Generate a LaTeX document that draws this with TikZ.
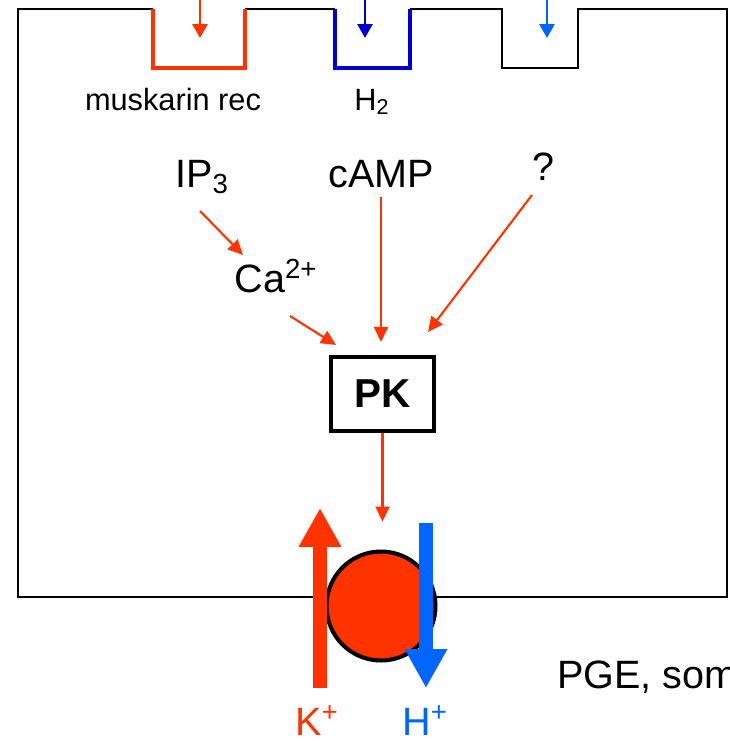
\documentclass[tikz,border=0pt]{standalone}
\usepackage{fontspec}
\setmainfont{Liberation Sans}
\usepackage{tikz}
\usetikzlibrary{arrows.meta,positioning,calc}
\definecolor{sigred}{RGB}{255,51,0}
\definecolor{hblue}{RGB}{0,102,255}
\definecolor{recblue}{RGB}{0,0,210}

\begin{document}
\begin{tikzpicture}[x=0.02cm,y=-0.02cm,
          every node/.style={inner sep=0pt,anchor=base},
          lbl/.style={font=\fontsize{17.5}{20}\selectfont},
          mol/.style={font=\fontsize{22.5}{26}\selectfont},
          pknode/.style={anchor=center,draw,line width=2.3pt,minimum width=2.06cm,
            minimum height=1.48cm,font=\fontsize{23}{26}\selectfont\bfseries},
          pumpnode/.style={anchor=center,circle,draw,line width=2.3pt,
            fill=sigred,minimum size=2.18cm},
          wall/.style={line width=1.2pt},
          pocket/.style={line width=2.3pt},
          sig/.style={sigred,line width=1.2pt,-{Triangle[length=0.3cm,width=0.28cm]}},
          ligand/.style={line width=1.6pt,-{Triangle[length=0.28cm,width=0.3cm]}},
          bigflow/.style={line width=0.28cm,-{Triangle[length=0.78cm,width=0.8cm]}}]
          \useasboundingbox (0,0) rectangle (730,741);
          \clip (0,0) rectangle (730,741);
          % cell wall with receptor pockets
          \draw[wall] (153,9) -- (18,9) -- (18,597) -- (727,597) -- (727,9) -- (578,9)
            -- (578,68) -- (502,68) -- (502,9) -- (410,9);
          \draw[wall] (245,9) -- (335,9);
          \draw[pocket,sigred] (153,9) -- (153,68) -- (245,68) -- (245,9);
          \draw[pocket,recblue] (335,9) -- (335,68) -- (410,68) -- (410,9);
          % ligands
          \coordinate (rin) at (200,-4);  \coordinate (rout) at (200,38);
          \coordinate (hin) at (365,-4);  \coordinate (hout) at (365,38);
          \coordinate (qin) at (547,-4);  \coordinate (qout) at (547,38);
          \draw[ligand,sigred] (rin) -- (rout);
          \draw[ligand,recblue] (hin) -- (hout);
          \draw[ligand,hblue] (qin) -- (qout);
          % labels
          \node[lbl] (musk) at (173,110) {muskarin rec};
          \node[lbl] (htwo) at (372,110) {H\textsubscript{2}};
          \node[mol] (ip3) at (202,187) {IP\textsubscript{3}};
          \node[mol] (camp) at (381,187) {cAMP};
          \node[mol] (q) at (543,180) {?};
          \node[mol] (ca) at (276,292) {Ca\textsuperscript{2+}};
          \node[pknode] (pk) at (382.5,394) {PK};
          % pump
          \node[pumpnode] (pump) at (381,606) {};
          \draw[bigflow,sigred] (320,688) coordinate (kfoot) -- (320,508) coordinate (ktip);
          \draw[bigflow,hblue] (426,523) coordinate (hfoot) -- (426,688) coordinate (htip);
          \node[mol,sigred] (kion) at (317,735) {K\textsuperscript{+}};
          \node[mol,hblue] (hion) at (425,735) {H\textsuperscript{+}};
          \node[mol,anchor=base west] (pge) at (557,688) {PGE, som};
          % signalling
          \draw[sig] ($(ip3.base)+(-2,24)$) -- ($(ca.base)+(-33,-37)$);
          \draw[sig] ($(ca.base)+(14,24)$) -- ($(pk.north west)+(7,-10)$);
          \draw[sig,shorten <=0.18cm,shorten >=0.26cm] (camp.south) -- (camp.south |- pk.north);
          \draw[sig] ($(q.base)+(-11,15)$) -- ($(pk.north east)+(-8,-23)$);
          \draw[sig,shorten >=0.56cm] (pk.south) -- (pk.south |- pump.north);
        \end{tikzpicture}
\end{document}
